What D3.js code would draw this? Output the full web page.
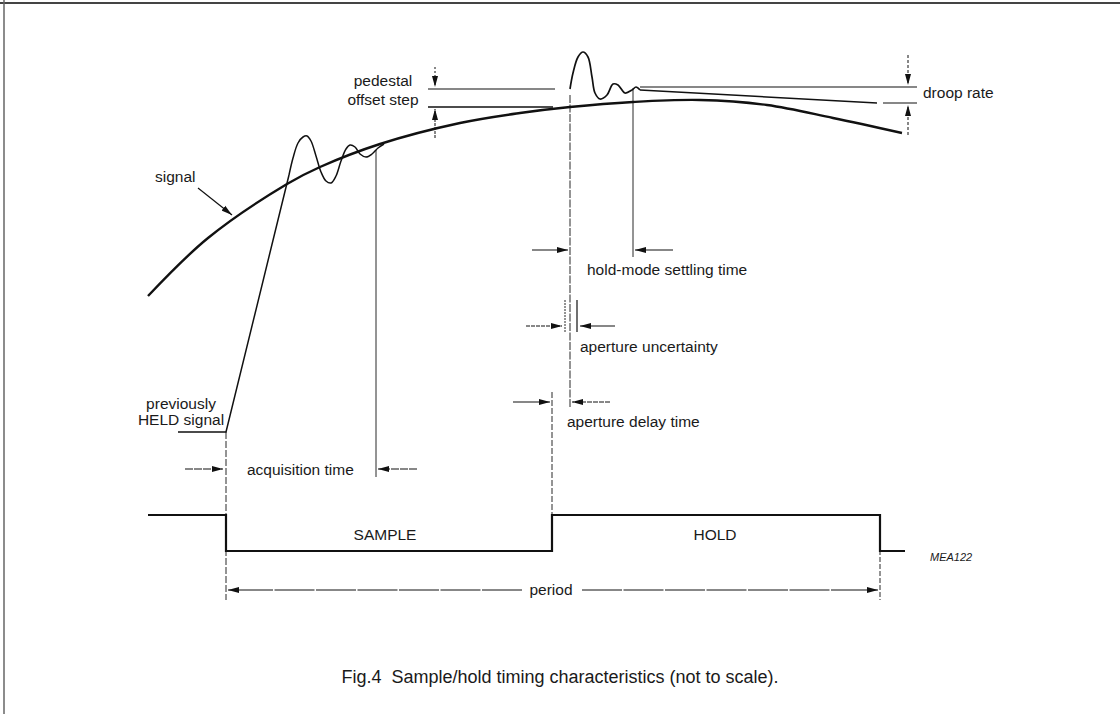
<!DOCTYPE html>
<html lang="en">
<head>
<meta charset="UTF-8">
<title>Sample/hold timing</title>
<script src="https://cdn.jsdelivr.net/npm/d3@7"></script>
<style>
  body { margin: 0; background: #fff; }
  text { font-family: "Liberation Sans", Arial, sans-serif; fill: #1a1a1a; white-space: pre; }
</style>
</head>
<body>
<script>
// time in arbitrary units (sample edge = 0, period = 65.4), level in arbitrary units
var signalT = [-7.8, -1.8, 6.1, 9.4, 15.4, 23.4, 29.4, 34.4, 40.7, 47.4, 54.1, 60.7, 67.6];
var signalV = [26.4, 32.2, 37.6, 39.3, 41.6, 43.7, 44.7, 45.3, 45.8, 46.0, 45.5, 44.2, 42.7];

// previously held level, then the ramp
var rampT = [-4.8, 0, 6.3];
var rampV = [12.8, 12.8, 38.5];
// acquisition ringing
var ringT = [6.3, 6.7, 7.2, 7.7, 8.1, 8.5, 9.0, 9.5, 10.0, 10.5, 11.0, 11.5, 12.0, 12.4, 12.9, 13.4, 14.0, 14.6, 15.2, 15.8];
var ringV = [38.5, 40.2, 41.7, 42.3, 42.4, 41.9, 40.4, 38.8, 37.9, 37.7, 38.4, 39.9, 41.1, 41.5, 41.3, 40.6, 40.3, 40.6, 41.2, 41.6];

// hold-mode transient then droop
var holdT = [34.4, 34.7, 35.2, 35.7, 36.2, 36.6, 36.9, 37.4, 38.1, 38.7, 39.2, 39.9, 40.6, 41.0, 41.4];
var holdV = [47.1, 48.7, 50.3, 50.8, 50.3, 48.3, 46.7, 46.1, 46.5, 47.6, 47.5, 46.7, 47.0, 47.3, 47.0];
var droopT = [41.4, 65.1];
var droopV = [47.0, 45.7];

// S/H control: 1 = high, 0 = low
var logicT = [-7.8, 0, 32.6, 65.4, 67.9];
var logicL = [1, 0, 1, 0, 0];

var width = 1120, height = 714;
var svg = d3.select('body').append('svg')
    .attr('width', width).attr('height', height);

var x = d3.scaleLinear().domain([0, 65.4]).range([226, 880]);
var y = d3.scaleLinear().domain([0, 50]).range([560, 60]);
var yL = d3.scaleLinear().domain([0, 1]).range([551, 515]);

// arrow head
svg.append('defs').append('marker')
    .attr('id', 'ah')
    .attr('viewBox', '0 0 11 7')
    .attr('refX', 11).attr('refY', 3.5)
    .attr('markerWidth', 11).attr('markerHeight', 7)
    .attr('markerUnits', 'userSpaceOnUse')
    .attr('orient', 'auto')
    .append('path').attr('d', 'M0,0.5L11,3.5L0,6.5Z').attr('fill', '#111');

// frame
svg.append('line').attr('x1', 0).attr('x2', width).attr('y1', 3).attr('y2', 3)
    .attr('stroke', '#444').attr('stroke-width', 2);
svg.append('line').attr('x1', 4).attr('x2', 4).attr('y1', 0).attr('y2', height)
    .attr('stroke', '#666').attr('stroke-width', 1.5);

function pts(ts, vs) { return ts.map(function (t, i) { return [t, vs[i]]; }); }

var lineLin = d3.line().x(function (d) { return x(d[0]); }).y(function (d) { return y(d[1]); });
var lineSmooth = d3.line().curve(d3.curveCatmullRom.alpha(0.5))
    .x(function (d) { return x(d[0]); }).y(function (d) { return y(d[1]); });

// signal
svg.append('path').attr('d', lineSmooth(pts(signalT, signalV)))
    .attr('fill', 'none').attr('stroke', '#111').attr('stroke-width', 2.4);

// acquisition
svg.append('path').attr('d', lineLin(pts(rampT, rampV)))
    .attr('fill', 'none').attr('stroke', '#111').attr('stroke-width', 1.5);
svg.append('path').attr('d', lineSmooth(pts(ringT, ringV)))
    .attr('fill', 'none').attr('stroke', '#111').attr('stroke-width', 1.5);

// hold transient + droop
svg.append('path').attr('d', lineSmooth(pts(holdT, holdV)))
    .attr('fill', 'none').attr('stroke', '#111').attr('stroke-width', 1.7);
svg.append('path').attr('d', lineLin(pts(droopT, droopV)))
    .attr('fill', 'none').attr('stroke', '#111').attr('stroke-width', 1.4);

// logic waveform
var logicLine = d3.line().curve(d3.curveStepAfter)
    .x(function (d) { return x(d[0]); }).y(function (d) { return yL(d[1]); });
svg.append('path').attr('d', logicLine(pts(logicT, logicL)))
    .attr('fill', 'none').attr('stroke', '#111').attr('stroke-width', 2.2);

// helper lines
function seg(t1, v1, t2, v2, w, dash) {
    return svg.append('line')
        .attr('x1', x(t1)).attr('y1', y(v1)).attr('x2', x(t2)).attr('y2', y(v2))
        .attr('stroke', '#111').attr('stroke-width', w || 1)
        .attr('stroke-dasharray', dash || null);
}
function arrow(t1, v1, t2, v2, w, dash) {
    return seg(t1, v1, t2, v2, w, dash).attr('marker-end', 'url(#ah)');
}

// pedestal offset step
seg(20.2, 47.1, 32.9, 47.1, 1.2);
seg(20.2, 45.3, 32.7, 45.3, 1.3);
arrow(20.9, 49.3, 20.9, 47.3, 1, '2,2');
arrow(20.9, 42.2, 20.9, 45.1, 1, '3,1');

// droop rate
seg(41.4, 47.3, 69.1, 47.3, 1.1);
seg(65.7, 45.7, 69.1, 45.7, 1.1);
arrow(68.2, 50.5, 68.2, 47.5, 1, '3,2');
arrow(68.2, 42.5, 68.2, 45.5, 1, '3,2');

// verticals
seg(15.0, 41.0, 15.0, 8.3, 0.9);
seg(34.4, 46.5, 34.4, 15.3, 0.9, '8,1.5');
seg(40.7, 47.2, 40.7, 30.3, 0.9);
seg(33.9, 26.0, 33.9, 22.8, 0.9, '2,1');
seg(35.1, 26.0, 35.1, 22.8, 1.2);
seg(32.6, 16.8, 32.6, 4.5, 0.9, '6,2');
seg(0, 12.8, 0, -4.0, 0.9, '7,2');
seg(65.4, 1.0, 65.4, -4.0, 0.9, '5,2');

// horizontal measurement arrows
arrow(-4.1, 9.1, -0.3, 9.1, 1.1, '8,1');
arrow(19.1, 9.1, 15.2, 9.1, 1.1, '8,1');
arrow(30.6, 31.0, 34.2, 31.0, 1.2);
arrow(44.7, 31.0, 40.9, 31.0, 1.2);
arrow(30.0, 23.4, 33.6, 23.4, 1, '4,1');
arrow(38.9, 23.4, 35.4, 23.4, 1.2);
arrow(28.7, 15.8, 32.4, 15.8, 1.2);
arrow(38.4, 15.8, 34.6, 15.8, 1, '5,1');
arrow(29.6, -3.0, 0.2, -3.0, 1, '40,1.5');
arrow(35.6, -3.0, 65.2, -3.0, 1, '40,1.5');

// signal pointer
arrow(-2.8, 37.2, 0.6, 34.5, 1.2);

// labels
function label(t, v, s, anchor, size, style) {
    return svg.append('text').attr('x', x(t)).attr('y', y(v))
        .attr('text-anchor', anchor || 'start')
        .attr('font-size', size || 15.5)
        .attr('font-style', style || null)
        .text(s);
}
label(-7.1, 37.8, 'signal');
label(15.7, 47.4, 'pedestal', 'middle');
label(15.7, 45.5, 'offset step', 'middle');
label(69.7, 46.2, 'droop rate');
label(-4.5, 15.1, 'previously', 'middle');
label(-4.5, 13.5, 'HELD signal', 'middle');
label(2.1, 8.5, 'acquisition time');
label(36.1, 28.5, 'hold-mode settling time');
label(35.4, 20.8, 'aperture uncertainty');
label(34.1, 13.3, 'aperture delay time');
label(15.9, 2.0, 'SAMPLE', 'middle');
label(48.9, 2.0, 'HOLD', 'middle');
label(32.5, -3.5, 'period', 'middle');
label(70.4, -0.1, 'MEA122', 'start', 11, 'italic');

svg.append('text').attr('x', 560).attr('y', 683)
    .attr('text-anchor', 'middle').attr('font-size', 18)
    .text('Fig.4  Sample/hold timing characteristics (not to scale).');
</script>
</body>
</html>
